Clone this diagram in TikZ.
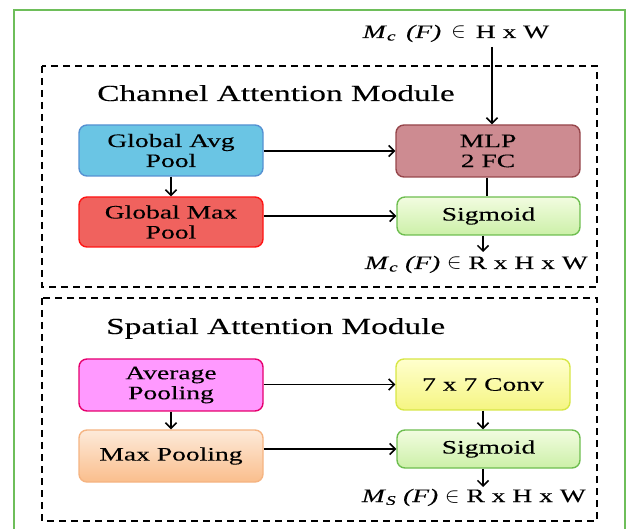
\documentclass[tikz,border=0pt]{standalone}
\usepackage{fontspec}
\usepackage{graphicx}
\setmainfont{Liberation Serif}[FakeStretch=1.45,FakeBold=0.12]
\usetikzlibrary{arrows.meta}
\definecolor{gborder}{RGB}{110,190,90}
\definecolor{avgfill}{RGB}{106,197,228}
\definecolor{avgline}{RGB}{85,145,210}
\definecolor{mlpfill}{RGB}{205,139,145}
\definecolor{mlpline}{RGB}{150,70,75}
\definecolor{maxfill}{RGB}{240,98,94}
\definecolor{maxline}{RGB}{255,20,20}
\definecolor{sigtop}{RGB}{242,252,224}
\definecolor{sigbot}{RGB}{204,240,168}
\definecolor{sigline}{RGB}{110,190,80}
\definecolor{apfill}{RGB}{255,153,255}
\definecolor{apline}{RGB}{230,0,110}
\definecolor{cvtop}{RGB}{255,255,205}
\definecolor{cvbot}{RGB}{245,245,130}
\definecolor{cvline}{RGB}{215,230,70}
\definecolor{mptop}{RGB}{253,234,218}
\definecolor{mpbot}{RGB}{250,190,140}
\definecolor{mpline}{RGB}{245,180,130}
\newcommand{\elem}{\scalebox{1.25}{$\in$}}
\begin{document}
\begin{tikzpicture}[x=1pt,y=-1pt,
  box/.style={draw, rounded corners=8pt, line width=1.4pt, align=center, inner sep=0pt,
    font=\fontsize{19}{20}\selectfont},
  arr/.style={-{Straight Barb[length=5.5pt,width=11pt]}, line width=1.5pt},
  module/.style={draw, dash pattern=on 7pt off 5pt, line width=1.6pt},
  titletext/.style={font=\fontsize{23}{26}\selectfont, inner sep=0pt},
  eqtext/.style={font=\fontsize{19}{20}\selectfont, inner sep=0pt}]
\useasboundingbox (0,0) rectangle (627,529);
\draw[gborder, line width=1.3pt] (14,10) rectangle (625,545);
% module frames
\draw[module] (42,66) rectangle (597,287);
\draw[module] (42,298) rectangle (597,521);
\node[titletext, anchor=base west] (t1) at (97,101) {Channel Attention Module};
\node[titletext, anchor=base west] (t2) at (106,334) {Spatial Attention Module};
% channel attention
\node[box, fill=avgfill, draw=avgline, minimum width=184pt, minimum height=51pt] (gavg) at (171,150.5) {Global Avg\\Pool};
\node[box, fill=mlpfill, draw=mlpline, minimum width=184pt, minimum height=52pt] (mlp) at (488,151) {MLP\\2 FC};
\node[box, fill=maxfill, draw=maxline, minimum width=184pt, minimum height=50pt] (gmax) at (171,222) {Global Max\\Pool};
\node[box, top color=sigtop, bottom color=sigbot, draw=sigline, minimum width=183pt, minimum height=38pt] (sig1) at (488.5,216) {Sigmoid};
\node[eqtext, anchor=base] (in) at (456,38) {\textit{M}\textsubscript{\textit{c}}\, \textit{(F)}\, \elem\, H x W};
\coordinate (inc) at (492,47);
\coordinate (o1) at (483,252);
\node[eqtext, anchor=base east] (out1) at (588,269) {\textit{M}\textsubscript{\textit{c}} \textit{(F)} \elem\ R x H x W};
\draw[arr] (inc) -- (inc |- mlp.north);
\draw[arr] (gavg.east |- mlp.west) -- (mlp.west);
\draw[arr] (gavg.south) -- (gmax.north);
\draw[arr] (gmax.east |- sig1.west) -- (sig1.west);
\draw[line width=1.5pt] ([xshift=-1pt]mlp.south) -- ([xshift=-1pt]mlp.south |- sig1.north);
\draw[arr] (o1 |- sig1.south) -- (o1);
% spatial attention
\node[box, fill=apfill, draw=apline, minimum width=184pt, minimum height=52pt] (avgp) at (171,385) {Average\\Pooling};
\node[box, top color=cvtop, bottom color=cvbot, draw=cvline, minimum width=174pt, minimum height=51pt] (conv) at (483,384.5) {7 x 7 Conv};
\node[box, top color=mptop, bottom color=mpbot, draw=mpline, minimum width=184pt, minimum height=52pt] (maxp) at (171,456) {Max Pooling};
\node[box, top color=sigtop, bottom color=sigbot, draw=sigline, minimum width=183pt, minimum height=38pt] (sig2) at (488.5,449) {Sigmoid};
\coordinate (o2) at (483,487);
\node[eqtext, anchor=base east] (out2) at (586,502) {\textit{M}\textsubscript{\textit{S}} \textit{(F)} \elem\ R x H x W};
\draw[arr] (avgp.east |- conv.west) -- (conv.west);
\draw[arr] (avgp.south) -- (maxp.north);
\draw[arr] (conv.south) -- (conv.south |- sig2.north);
\draw[arr] (maxp.east |- sig2.west) -- (sig2.west);
\draw[arr] (o2 |- sig2.south) -- (o2);
\end{tikzpicture}
\end{document}
